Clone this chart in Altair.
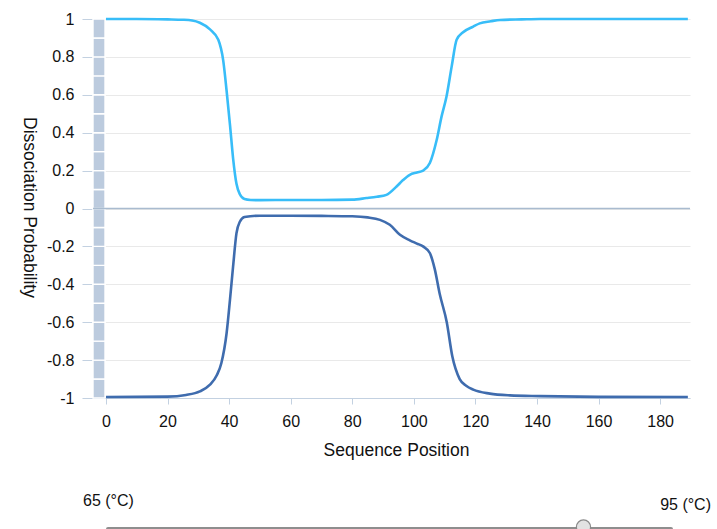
import altair as alt
import pandas as pd

# Dissociation probability along the sequence (upper strand, positive)
upper_pos = [0, 10, 20, 25, 28, 30.5, 33.8, 36.5, 38.1, 39.2, 40.3, 41.3, 42.4, 43.5, 45, 47,
             50, 60, 70, 80, 84.6, 88, 91.1, 94.4, 96.5, 98.7, 101, 103, 105.2, 107.4, 109,
             110.6, 112.3, 113.9, 116, 119.3, 121.4, 125, 128, 135, 141, 160, 189]
upper_val = [1, 1, 0.998, 0.996, 0.992, 0.98, 0.945, 0.89, 0.78, 0.62, 0.44, 0.265, 0.13, 0.075,
             0.05, 0.045, 0.044, 0.045, 0.045, 0.047, 0.055, 0.062, 0.072, 0.116, 0.15, 0.178,
             0.19, 0.2, 0.24, 0.36, 0.485, 0.59, 0.75, 0.89, 0.93, 0.96, 0.977, 0.988, 0.995,
             0.998, 1, 1, 1]

# Lower strand, drawn as negative probability
lower_pos = [0, 20, 26, 30.5, 33.8, 36, 37.5, 39.2, 40.3, 41.3, 42.4, 43.5, 45, 50, 60, 70, 80,
             85, 89, 92.2, 95.5, 98.7, 101, 103, 105.2, 106.8, 108.4, 110.7, 112.5, 114.9, 117,
             119.3, 124.7, 131.2, 141, 160, 189]
lower_val = [-0.995, -0.993, -0.984, -0.965, -0.93, -0.88, -0.815, -0.657, -0.48, -0.306, -0.13,
             -0.07, -0.045, -0.038, -0.038, -0.039, -0.041, -0.047, -0.06, -0.086, -0.139, -0.168,
             -0.185, -0.2, -0.235, -0.32, -0.45, -0.6, -0.78, -0.9, -0.935, -0.956, -0.977,
             -0.986, -0.99, -0.994, -0.995]

# Segmented side bar
band_lo = [-1.0, -0.9, -0.8, -0.7, -0.6, -0.5, -0.4, -0.3, -0.2, -0.1,
           0.0, 0.1, 0.2, 0.3, 0.4, 0.5, 0.6, 0.7, 0.8, 0.9]
band_hi = [-0.9, -0.8, -0.7, -0.6, -0.5, -0.4, -0.3, -0.2, -0.1, 0.0,
           0.1, 0.2, 0.3, 0.4, 0.5, 0.6, 0.7, 0.8, 0.9, 1.0]

y_ticks = [-1, -0.8, -0.6, -0.4, -0.2, 0, 0.2, 0.4, 0.6, 0.8, 1]
x_ticks = [0, 20, 40, 60, 80, 100, 120, 140, 160, 180]

temp_min, temp_max = 65, 95
temp_current = 90.3

FONT = "Liberation Sans"
X_DOMAIN = [-4.2, 189.7]

lines_df = pd.concat([
    pd.DataFrame({"pos": upper_pos, "p": upper_val, "strand": "upper"}),
    pd.DataFrame({"pos": lower_pos, "p": lower_val, "strand": "lower"}),
])
band_df = pd.DataFrame({"pos": X_DOMAIN[0], "pos_end": -0.3, "p": band_lo, "p_end": band_hi})

num_label = "'' + (round(datum.value * 10) / 10)"

x_scale = alt.Scale(domain=X_DOMAIN, nice=False, zero=False)
y_scale = alt.Scale(domain=[-1, 1], nice=False)

x_axis = alt.Axis(
    values=x_ticks, labelExpr=num_label, grid=False, title="Sequence Position",
    tickSize=6, labelPadding=9, tickColor="#c3d1e1", domainColor="#c3d1e1",
    labelFontSize=16, titleFontSize=17.5, labelColor="#111", titleColor="#111",
    labelFont=FONT, titleFont=FONT, titleFontWeight="normal", labelOverlap=False,
    titleX=303, titleY=52, titleBaseline="middle", titleAnchor="start", titleAlign="center",
)
y_axis = alt.Axis(
    values=y_ticks, labelExpr=num_label, grid=True, gridColor="#e9e9e9",
    domain=False, tickSize=11, labelPadding=8, tickColor="#c3d1e1",
    labelOverlap=False, labelBound=False, labelFlush=False,
    title="Dissociation Probability", titleAngle=90, titleX=-65, titleY=188,
    titleBaseline="middle", titleAlign="center", titleAnchor="start",
    labelFontSize=16, titleFontSize=17.5, labelColor="#111", titleColor="#111",
    labelFont=FONT, titleFont=FONT, titleFontWeight="normal",
)

curves = alt.Chart(lines_df).mark_line(
    interpolate="monotone", strokeWidth=2.6
).encode(
    x=alt.X("pos:Q", scale=x_scale, axis=x_axis),
    y=alt.Y("p:Q", scale=y_scale, axis=y_axis),
    color=alt.Color(
        "strand:N",
        scale=alt.Scale(domain=["upper", "lower"], range=["#38bdf8", "#3f6cae"]),
        legend=None,
    ),
    detail="strand:N",
)

band = alt.Chart(band_df).mark_rect(
    color="#bccbde", stroke="white", strokeWidth=1.4
).encode(
    x=alt.X("pos:Q", scale=x_scale, axis=x_axis),
    x2="pos_end:Q",
    y=alt.Y("p:Q", scale=y_scale, axis=y_axis),
    y2="p_end:Q",
)

zero_line = alt.Chart(pd.DataFrame({"p": [0]})).mark_rule(
    color="#a9bbcf", strokeWidth=1.6
).encode(y=alt.Y("p:Q", scale=y_scale, axis=y_axis), x=alt.value(0), x2=alt.value(597))

main = alt.layer(curves, band, zero_line)

# Temperature slider below the plot
track = alt.Chart(pd.DataFrame({"k": [0]})).mark_rule(
    color="#8e8e8e", strokeWidth=4, strokeCap="round"
).encode(x=alt.value(15), x2=alt.value(578), y=alt.value(510))

handle = alt.Chart(pd.DataFrame({"t": [temp_current]})).mark_point(
    shape="circle", filled=True, size=200, fill="#e2e2e2", stroke="#8a8a8a",
    strokeWidth=1.2, opacity=1
).encode(
    x=alt.X("t:Q", scale=alt.Scale(domain=[temp_min, temp_max], range=[14, 579]), axis=None),
    y=alt.value(508),
)

lbl_min = alt.Chart(pd.DataFrame({"k": [0]})).mark_text(
    text=f"{temp_min} (°C)", align="left", baseline="middle", fontSize=16, font=FONT, color="#111"
).encode(x=alt.value(-10), y=alt.value(482))

lbl_max = alt.Chart(pd.DataFrame({"k": [0]})).mark_text(
    text=f"{temp_max} (°C)", align="right", baseline="middle", fontSize=16, font=FONT, color="#111"
).encode(x=alt.value(618), y=alt.value(486))

chart = alt.layer(main, track, handle, lbl_min, lbl_max).resolve_scale(
    x="independent"
).properties(
    width=597,
    height=379,
    autosize=alt.AutoSizeParams(type="none"),
    padding={"left": 93, "top": 19, "right": 27, "bottom": 131},
).configure_view(strokeWidth=0)

chart.save("out.html", embed_options={"renderer": "svg", "actions": False})
